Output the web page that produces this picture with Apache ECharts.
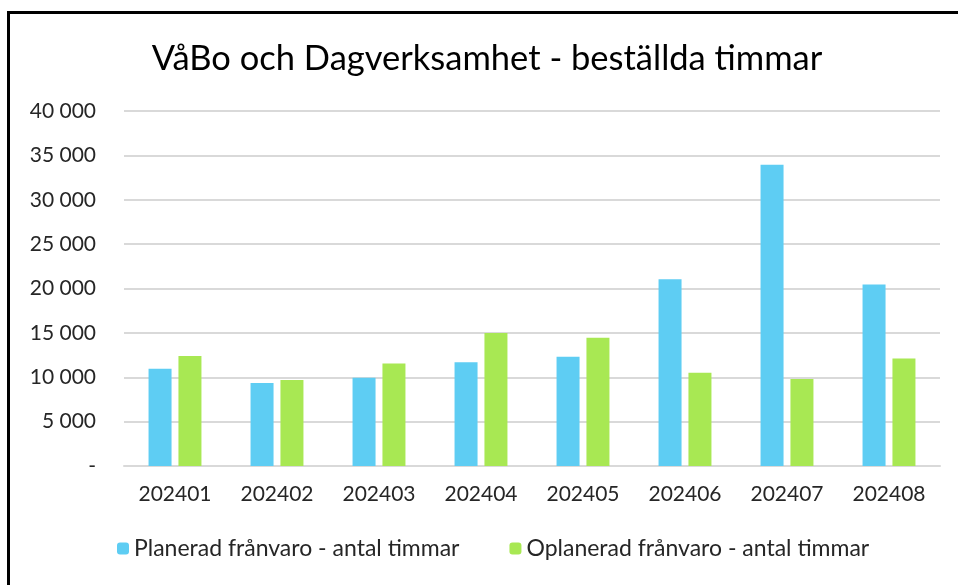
<!DOCTYPE html>
<html>
<head>
<meta charset="utf-8">
<script src="https://cdn.jsdelivr.net/npm/echarts@6/dist/echarts.min.js"></script>
<style>
    html, body { margin: 0; padding: 0; background: #fff; }
    #chartDiv { position: absolute; left: 0; top: 0; width: 958px; height: 585px; }
    #frame { position: absolute; left: 7px; top: 11px; width: 960px; height: 600px;
             border-left: 3px solid #000; border-top: 3px solid #000; pointer-events: none; }
</style>
</head>
<body>
<div id="chartDiv"></div>
<div id="frame"></div>
<script>
    // data
    var months = ['202401', '202402', '202403', '202404', '202405', '202406', '202407', '202408'];
    var planerad = [10950, 9350, 9950, 11700, 12300, 21050, 33950, 20450];
    var oplanerad = [12400, 9700, 11550, 15000, 14450, 10500, 9800, 12100];
    var seriesNames = ['Planerad frånvaro - antal timmar', 'Oplanerad frånvaro - antal timmar'];

    var font = 'Lato, "Open Sans", sans-serif';

    function fmt(v) {
        if (v === 0) return '-';
        return String(v).replace(/\B(?=(\d{3})+(?!\d))/g, ' ');
    }

    var chart = echarts.init(document.getElementById('chartDiv'));
    chart.setOption({
        animation: false,
        title: {
            text: 'VåBo och Dagverksamhet - beställda timmar',
            left: 482, top: 36, textAlign: 'center',
            textStyle: { fontFamily: font, fontSize: 34.5, fontWeight: 'normal', color: '#000' }
        },
        legend: {
            bottom: 20, left: 112,
            itemWidth: 12, itemHeight: 12, itemGap: 50,
            textStyle: { fontFamily: font, fontSize: 23, color: '#262626' },
            data: seriesNames
        },
        grid: { left: 124, right: 18, top: 111, bottom: 119 },
        xAxis: {
            type: 'category',
            data: months,
            axisLine: { lineStyle: { color: '#D9D9D9', width: 2 } },
            axisTick: { show: false },
            axisLabel: { fontFamily: font, fontSize: 21, color: '#262626', margin: 18 }
        },
        yAxis: {
            type: 'value',
            min: 0, max: 40000, interval: 5000,
            axisLine: { show: false },
            axisTick: { show: false },
            splitLine: { lineStyle: { color: '#D9D9D9', width: 2 } },
            axisLabel: { fontFamily: font, fontSize: 21, color: '#262626', margin: 28, formatter: fmt }
        },
        series: [
            { name: seriesNames[0], type: 'bar', data: planerad, barWidth: 23, barGap: '30%',
              itemStyle: { color: '#5ECDF3' } },
            { name: seriesNames[1], type: 'bar', data: oplanerad, barWidth: 23,
              itemStyle: { color: '#A8E853' } }
        ]
    });
</script>
</body>
</html>
